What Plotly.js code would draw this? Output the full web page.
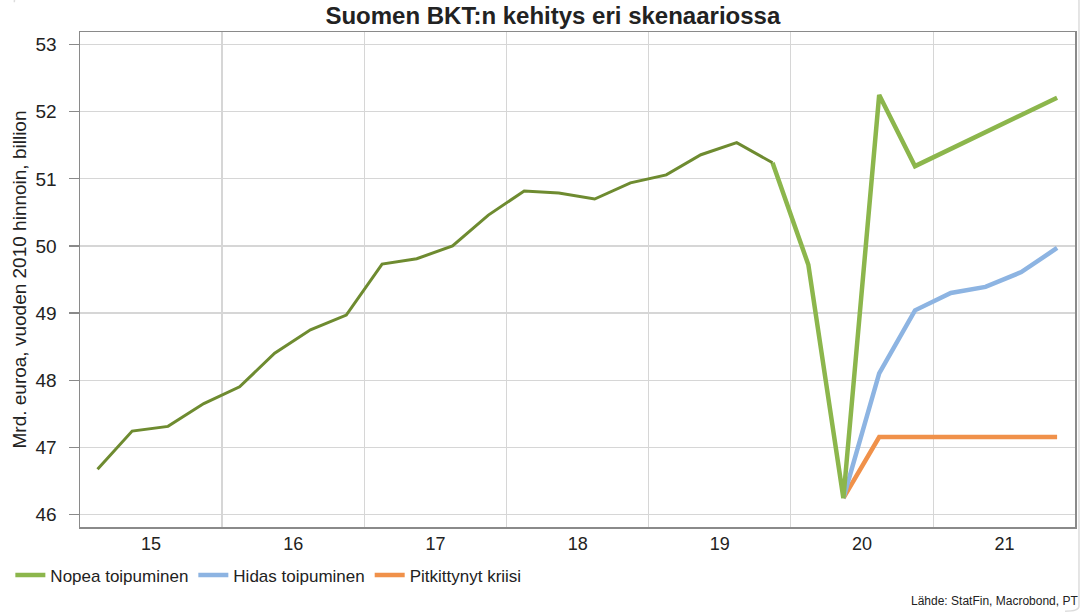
<!DOCTYPE html>
<html>
<head>
<meta charset="utf-8">
<script src="https://cdn.plot.ly/plotly-3.0.1.min.js"></script>
<style>html,body{margin:0;padding:0;background:#fff;}#chart{width:1084px;height:614px;}</style>
</head>
<body>
<div id="chart"></div>
<script>
// Quarter mid-points, 2015Q1 .. 2021Q4
const quarters = [
  '2015-02-15','2015-05-15','2015-08-15','2015-11-15',
  '2016-02-15','2016-05-15','2016-08-15','2016-11-15',
  '2017-02-15','2017-05-15','2017-08-15','2017-11-15',
  '2018-02-15','2018-05-15','2018-08-15','2018-11-15',
  '2019-02-15','2019-05-15','2019-08-15','2019-11-15',
  '2020-02-15','2020-05-15','2020-08-15','2020-11-15',
  '2021-02-15','2021-05-15','2021-08-15','2021-11-15'
];
// Historical GDP, 2015Q1 .. 2019Q4 (bn EUR, 2010 prices)
const historical = [46.67, 47.24, 47.31, 47.65, 47.90, 48.40, 48.75, 48.97,
  49.73, 49.81, 50.00, 50.46, 50.82, 50.79, 50.70, 50.94,
  51.06, 51.36, 51.54, 51.24];
// Scenarios 2019Q4 .. 2021Q4
const nopea = [51.24, 49.72, 46.24, 52.25, 51.19, 51.45, 51.70, 51.96, 52.21];
// 2020Q2 .. 2021Q4
const hidas = [46.24, 48.10, 49.04, 49.30, 49.39, 49.61, 49.97];
const pitkittynyt = [46.24, 47.15, 47.15, 47.15, 47.15, 47.15, 47.15];
const seriesNames = ['Nopea toipuminen', 'Hidas toipuminen', 'Pitkittynyt kriisi'];
const yTicks = [46, 47, 48, 49, 50, 51, 52, 53];

const FONT = '"Liberation Sans Narrow", "Liberation Sans", Arial, sans-serif';

const traces = [
  {x: quarters.slice(21), y: pitkittynyt, name: seriesNames[2], mode: 'lines',
   line: {color: '#f0914a', width: 4.5}, legendrank: 3},
  {x: quarters.slice(21), y: hidas, name: seriesNames[1], mode: 'lines',
   line: {color: '#8db4e2', width: 4.5}, legendrank: 2},
  {x: quarters.slice(19), y: nopea, name: seriesNames[0], mode: 'lines',
   line: {color: '#8cb64c', width: 4.5}, legendrank: 1},
  {x: quarters.slice(0, 20), y: historical, name: 'Toteutunut', mode: 'lines',
   line: {color: '#6e8b30', width: 3}, showlegend: false}
];

const layout = {
  width: 1084, height: 614,
  margin: {l: 80, r: 9, t: 32, b: 87},
  paper_bgcolor: '#ffffff', plot_bgcolor: '#ffffff',
  font: {family: FONT, size: 16, color: '#222'},
  title: {text: '<b>Suomen BKT:n kehitys eri skenaariossa</b>', font: {family: FONT, size: 24, color: '#222'},
          x: 0.51, xanchor: 'center', y: 0.975, yref: 'container', yanchor: 'middle'},
  xaxis: {type: 'date', range: ['2015-01-01', '2021-12-31'],
          tick0: '2015-01-01', dtick: 'M12', tickformat: '%y', ticklabelmode: 'period',
          showgrid: false,
          showline: true, linecolor: '#8a8a8a', linewidth: 1.5, mirror: true,
          ticks: '', tickfont: {family: FONT, size: 18, color: '#222'}, zeroline: false},
  xaxis2: {type: 'date', overlaying: 'x', matches: 'x', side: 'top',
           tick0: '2015-01-01', dtick: 'M12', showticklabels: false, ticks: '',
           showgrid: true, gridcolor: '#d6d6d6', gridwidth: 1.2, showline: false, zeroline: false},
  yaxis: {range: [45.81, 53.19], tickvals: yTicks, ticktext: yTicks.map(String),
          showgrid: true, gridcolor: '#d6d6d6', gridwidth: 1.2,
          showline: true, linecolor: '#8a8a8a', linewidth: 1.5, mirror: true,
          ticks: 'outside', ticklen: 10, tickwidth: 1.2, tickcolor: '#8a8a8a',
          ticklabelstandoff: 8, tickfont: {family: FONT, size: 19, color: '#222'},
          title: {text: 'Mrd. euroa, vuoden 2010 hinnoin, billion', standoff: 4,
                  font: {family: FONT, size: 19, color: '#222'}}, zeroline: false},
  legend: {orientation: 'h', x: -0.07, xanchor: 'left', y: -0.098, yanchor: 'middle',
           font: {family: FONT, size: 17, color: '#222'}, itemwidth: 30, tracegroupgap: 0,
           bgcolor: 'rgba(0,0,0,0)'},
  annotations: [
    {text: 'Lähde: StatFin, Macrobond, PT', xref: 'paper', yref: 'paper', x: 1.005, y: -0.15,
     xanchor: 'right', yanchor: 'middle', showarrow: false, font: {family: FONT, size: 12, color: '#222'}}
  ],
  shapes: [
    {type: 'path', xref: 'paper', yref: 'paper', layer: 'below',
     path: 'M -0.066 1.06 Q -0.066 1.09 -0.04 1.09 L 0.995 1.09 Q 1.004 1.09 1.004 1.06 L 1.004 -0.16 Q 1.004 -0.17 0.99 -0.17',
     line: {color: '#dddddd', width: 1.5}}
  ],
  showlegend: true
};

// invisible helper trace so the gridline axis is drawn
traces.push({x: [quarters[0]], y: [historical[0]], xaxis: 'x2', mode: 'markers',
             marker: {opacity: 0}, showlegend: false, hoverinfo: 'skip'});

Plotly.newPlot('chart', traces, layout, {displayModeBar: false, staticPlot: true});
</script>
</body>
</html>
